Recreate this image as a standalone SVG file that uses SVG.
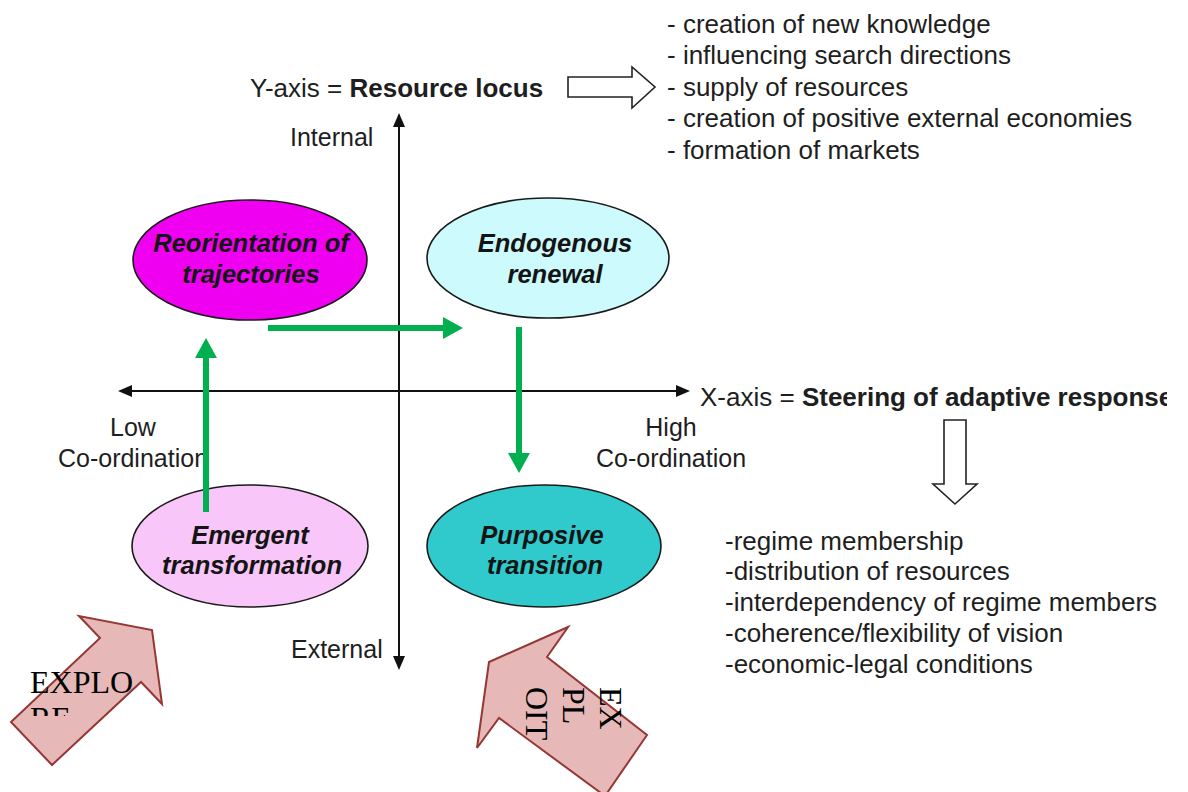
<svg xmlns="http://www.w3.org/2000/svg" width="1188" height="792" viewBox="0 0 1188 792">
<style>
.lbl{font-family:"Liberation Sans",Arial,sans-serif;font-size:25px;fill:#1e1e1e}
.lst{font-family:"Liberation Sans",Arial,sans-serif;font-size:26px;fill:#1e1e1e}
.b{font-weight:bold}
.mid{text-anchor:middle}
.nt{font-family:"Liberation Sans",Arial,sans-serif;font-weight:bold;font-style:italic;font-size:25.5px;text-anchor:middle;fill:#141414}
.el{stroke:#1a1a1a;stroke-width:1.6}
.axis{stroke:#111;stroke-width:2;fill:none}
.green{stroke:#00b050;stroke-width:6;fill:none}
.block{fill:#e6b8b7;stroke:#953735;stroke-width:2;stroke-linejoin:miter}
.open{fill:#fff;stroke:#222;stroke-width:1.6}
.serif{font-family:"Liberation Serif","Times New Roman",serif;font-size:32px;fill:#000}
</style>
<defs>
<marker id="ah" viewBox="0 0 14 12" refX="0" refY="6" markerWidth="14" markerHeight="12" markerUnits="userSpaceOnUse" orient="auto-start-reverse">
<path d="M0,0 L14,6 L0,12 z" fill="#111"/>
</marker>
<marker id="gh" viewBox="0 0 20 22" refX="0" refY="11" markerWidth="20" markerHeight="22" markerUnits="userSpaceOnUse" orient="auto">
<path d="M0,0 L20,11 L0,22 z" fill="#00b050"/>
</marker>
<clipPath id="clipX"><rect x="0" y="0" width="1167" height="792"/></clipPath>
<clipPath id="clipE"><rect x="0" y="600" width="200" height="116"/></clipPath>
</defs>
<rect width="1188" height="792" fill="#fff"/>

<g id="axes">
<line class="axis" x1="399" y1="127" x2="399" y2="656" marker-start="url(#ah)" marker-end="url(#ah)"/>
<line class="axis" x1="132" y1="391" x2="676" y2="391" marker-start="url(#ah)" marker-end="url(#ah)"/>
</g>

<g id="labels">
<text class="lst" x="250" y="97">Y-axis = <tspan class="b">Resource locus</tspan></text>
<polygon class="open" points="568,77 632,77 632,67 655,87 632,108 632,97 568,97"/>
<text class="lbl" x="290" y="146">Internal</text>
<text class="lbl" x="291" y="658">External</text>
<text class="lbl mid" x="133" y="436">Low</text>
<text class="lbl mid" x="133" y="467">Co-ordination</text>
<text class="lbl mid" x="671" y="436">High</text>
<text class="lbl mid" x="671" y="467">Co-ordination</text>
<text class="lst" x="700" y="406" clip-path="url(#clipX)">X-axis = <tspan class="b">Steering of adaptive response</tspan></text>
<polygon class="open" points="944,420 966,420 966,484 977,484 955,504 933,484 944,484"/>
</g>

<g id="list-top" class="lst">
<text x="667" y="33">- creation of new knowledge</text>
<text x="667" y="64">- influencing search directions</text>
<text x="667" y="96">- supply of resources</text>
<text x="667" y="127">- creation of positive external economies</text>
<text x="667" y="159">- formation of markets</text>
</g>

<g id="list-bottom" class="lst">
<text x="725" y="550">-regime membership</text>
<text x="725" y="580">-distribution of resources</text>
<text x="725" y="611">-interdependency of regime members</text>
<text x="725" y="642">-coherence/flexibility of vision</text>
<text x="725" y="673">-economic-legal conditions</text>
</g>

<g id="node-reorientation">
<ellipse class="el" cx="250" cy="260" rx="117" ry="60" fill="#f000f0"/>
<text class="nt" x="251" y="252">Reorientation of</text>
<text class="nt" x="251" y="283">trajectories</text>
</g>
<g id="node-endogenous">
<ellipse class="el" cx="548" cy="258" rx="121" ry="60" fill="#cdfafc"/>
<text class="nt" x="555" y="252">Endogenous</text>
<text class="nt" x="555" y="283">renewal</text>
</g>
<g id="node-emergent">
<ellipse class="el" cx="250" cy="546" rx="118" ry="61" fill="#f8c6f8"/>
<text class="nt" x="250" y="544">Emergent</text>
<text class="nt" x="252" y="574">transformation</text>
</g>
<g id="node-purposive">
<ellipse class="el" cx="544" cy="546" rx="117" ry="61" fill="#30c9cc"/>
<text class="nt" x="542" y="544">Purposive</text>
<text class="nt" x="545" y="574">transition</text>
</g>

<g id="connectors">
<line class="green" x1="206" y1="512" x2="206" y2="358" marker-end="url(#gh)"/>
<line class="green" x1="268" y1="328" x2="443" y2="328" marker-end="url(#gh)"/>
<line class="green" x1="519" y1="327" x2="519" y2="453" marker-end="url(#gh)"/>
</g>

<g id="explore">
<polygon class="block" points="11,722 100,638 79,616 152,630 162,704 141,682 52,765"/>
<g clip-path="url(#clipE)">
<text class="serif" x="30" y="693">EXPLO</text>
<text class="serif" x="30" y="729">RE</text>
</g>
</g>

<g id="exploit">
<polygon class="block" points="568,627 489,662 477,748 499,718 605,796 647,735 547,657"/>
<g transform="translate(600,687) rotate(90)">
<text class="serif" x="0" y="0">EX</text>
<text class="serif" x="0" y="37">PL</text>
<text class="serif" x="0" y="74">OIT</text>
</g>
</g>
</svg>
